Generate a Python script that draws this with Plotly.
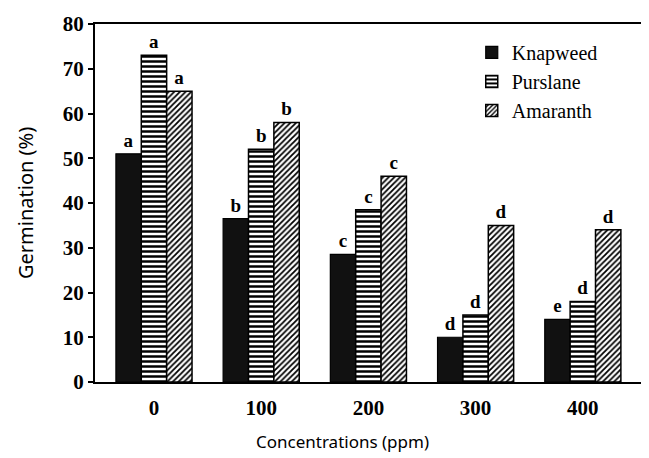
import plotly.graph_objects as go

concentrations = ["0", "100", "200", "300", "400"]
knapweed = [51, 36.5, 28.5, 10, 14]
purslane = [73, 52, 38.5, 15, 18]
amaranth = [65, 58, 46, 35, 34]
knapweed_letters = ["a", "b", "c", "d", "e"]
purslane_letters = ["a", "b", "c", "d", "d"]
amaranth_letters = ["a", "b", "c", "d", "d"]
y_ticks = [0, 10, 20, 30, 40, 50, 60, 70, 80]

serif = "Liberation Serif"
letter_font = dict(family=serif, size=19, color="black", weight="bold")
tick_font = dict(family=serif, size=21, color="black", weight="bold")
title_font = dict(family="Noto Sans", size=17, color="black")

fig = go.Figure()
fig.add_trace(go.Bar(
    x=concentrations, y=knapweed, name="Knapweed",
    text=knapweed_letters, textposition="outside", textfont=letter_font,
    marker=dict(color="#111111", line=dict(color="black", width=1.2)),
))
fig.add_trace(go.Bar(
    x=concentrations, y=purslane, name="Purslane",
    text=purslane_letters, textposition="outside", textfont=letter_font,
    marker=dict(color="white", line=dict(color="black", width=1.5),
                pattern=dict(shape="-", fgcolor="black", bgcolor="white",
                             size=5, solidity=0.5, fillmode="replace")),
))
fig.add_trace(go.Bar(
    x=concentrations, y=amaranth, name="Amaranth",
    text=amaranth_letters, textposition="outside", textfont=letter_font,
    marker=dict(color="white", line=dict(color="black", width=1.5),
                pattern=dict(shape="/", fgcolor="black", bgcolor="white",
                             size=4, solidity=0.45, fillmode="replace")),
))

fig.update_layout(
    width=641, height=450,
    margin=dict(l=87, r=4, t=12, b=76),
    paper_bgcolor="white", plot_bgcolor="white",
    barmode="group", bargap=0.29, bargroupgap=0,
    showlegend=True,
    legend=dict(x=0.685, y=0.975, xanchor="left", yanchor="top",
                font=dict(family=serif, size=20, color="black"),
                bgcolor="rgba(0,0,0,0)", itemwidth=30, tracegroupgap=0),
    font=dict(family="Liberation Sans", color="black"),
    annotations=[
        dict(text="Concentrations (ppm)", xref="paper", yref="paper",
             x=(342 - 95) / 550, y=-(429 - 382) / 362, xanchor="center", yanchor="top",
             showarrow=False, font=title_font),
        dict(text="Germination (%)", xref="paper", yref="paper",
             x=-(95 - 25) / 550, y=0.5, xanchor="center", yanchor="middle",
             textangle=-90, showarrow=False,
             font=dict(family="Noto Sans", size=20, color="black")),
    ],
)
fig.update_xaxes(
    range=[-0.55, 4.58], showline=True, linecolor="black", linewidth=2,
    mirror=True, ticks="", showgrid=False, ticklabelstandoff=6,
    tickfont=tick_font,
)
fig.update_yaxes(
    range=[0, 80], tickvals=y_ticks, showline=True, linecolor="black", linewidth=2,
    ticks="outside", ticklen=5, tickwidth=1.5, tickcolor="black", showgrid=False,
    zeroline=False, tickfont=tick_font,
)

fig.write_html("out.html")
